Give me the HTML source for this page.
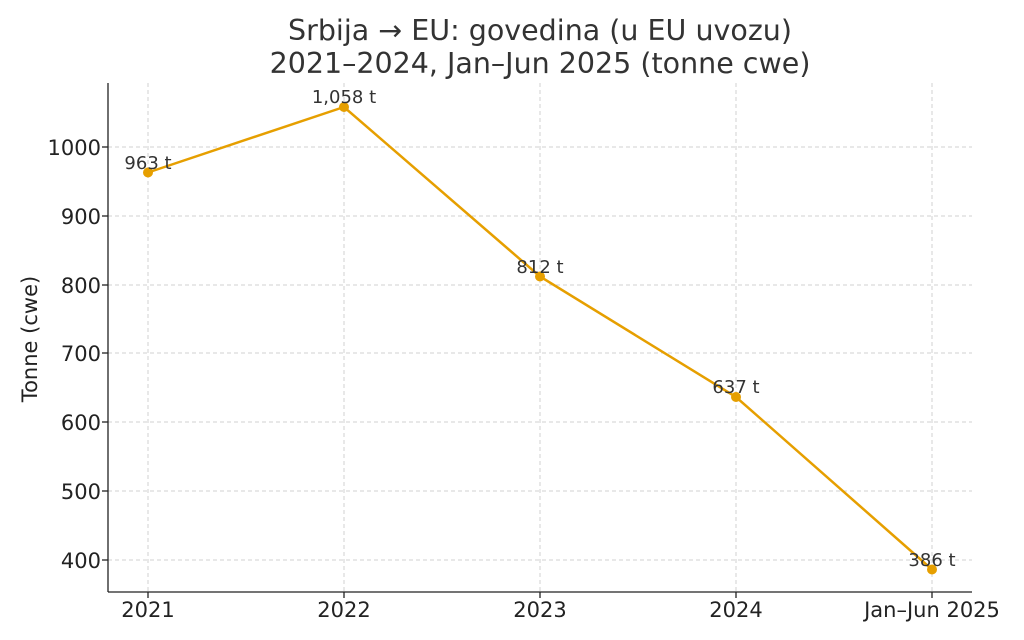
<!DOCTYPE html>
<html><head><meta charset="utf-8"><style>
html,body{margin:0;padding:0;background:#fff;}
svg{display:block;font-family:"DejaVu Sans","Liberation Sans",sans-serif;}
</style></head><body>
<svg width="1024" height="640" viewBox="0 0 1024 640" xmlns="http://www.w3.org/2000/svg">
<rect width="1024" height="640" fill="#fff"/>
<text x="540" y="40" font-size="28.5" fill="#333" text-anchor="middle">Srbija → EU: govedina (u EU uvozu)</text>
<text x="540" y="73" font-size="28.5" fill="#333" text-anchor="middle">2021–2024, Jan–Jun 2025 (tonne cwe)</text>
<g stroke="#d0d0d0" stroke-width="1" stroke-dasharray="4,3">
<line x1="108" x2="972" y1="147" y2="147"/>
<line x1="108" x2="972" y1="216" y2="216"/>
<line x1="108" x2="972" y1="285" y2="285"/>
<line x1="108" x2="972" y1="353" y2="353"/>
<line x1="108" x2="972" y1="422" y2="422"/>
<line x1="108" x2="972" y1="491" y2="491"/>
<line x1="108" x2="972" y1="560" y2="560"/>
<line x1="148" x2="148" y1="83" y2="592"/>
<line x1="344" x2="344" y1="83" y2="592"/>
<line x1="540" x2="540" y1="83" y2="592"/>
<line x1="736" x2="736" y1="83" y2="592"/>
<line x1="932" x2="932" y1="83" y2="592"/>
</g>
<g stroke="#222" stroke-width="1.3">
<line x1="108" x2="108" y1="83" y2="592"/>
<line x1="108" x2="972" y1="592" y2="592"/>
<line x1="102" x2="108" y1="147" y2="147"/>
<line x1="102" x2="108" y1="216" y2="216"/>
<line x1="102" x2="108" y1="285" y2="285"/>
<line x1="102" x2="108" y1="353" y2="353"/>
<line x1="102" x2="108" y1="422" y2="422"/>
<line x1="102" x2="108" y1="491" y2="491"/>
<line x1="102" x2="108" y1="560" y2="560"/>
<line x1="148" x2="148" y1="592" y2="598"/>
<line x1="344" x2="344" y1="592" y2="598"/>
<line x1="540" x2="540" y1="592" y2="598"/>
<line x1="736" x2="736" y1="592" y2="598"/>
<line x1="932" x2="932" y1="592" y2="598"/>
</g>
<g font-size="21" fill="#222" text-anchor="end">
<text x="101" y="155">1000</text>
<text x="101" y="224">900</text>
<text x="101" y="293">800</text>
<text x="101" y="361">700</text>
<text x="101" y="430">600</text>
<text x="101" y="499">500</text>
<text x="101" y="568">400</text>
</g>
<g font-size="21" fill="#222" text-anchor="middle">
<text x="148" y="617">2021</text>
<text x="344" y="617">2022</text>
<text x="540" y="617">2023</text>
<text x="736" y="617">2024</text>
<text x="932" y="617">Jan–Jun 2025</text>
</g>
<text transform="translate(37,339) rotate(-90)" font-size="21" fill="#222" text-anchor="middle">Tonne (cwe)</text>
<polyline points="148,172.5 344,107 540,276.5 736,397 932,569.5" fill="none" stroke="#E69F00" stroke-width="2.5"/>
<g fill="#E69F00">
<circle cx="148" cy="172.5" r="5"/>
<circle cx="344" cy="107" r="5"/>
<circle cx="540" cy="276.5" r="5"/>
<circle cx="736" cy="397" r="5"/>
<circle cx="932" cy="569.5" r="5"/>
</g>
<g font-size="18" fill="#333" text-anchor="middle">
<text x="148" y="169">963 t</text>
<text x="344" y="103">1,058 t</text>
<text x="540" y="273">812 t</text>
<text x="736" y="393">637 t</text>
<text x="932" y="566">386 t</text>
</g>
</svg>
</body></html>
